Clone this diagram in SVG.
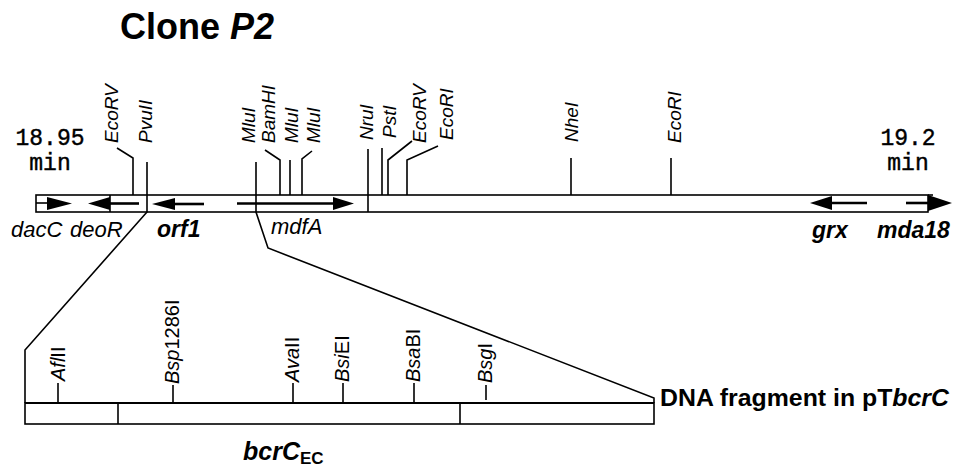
<svg xmlns="http://www.w3.org/2000/svg" width="954" height="469" viewBox="0 0 954 469">
<style>
text{font-family:"Liberation Sans",Arial,sans-serif;fill:#000}
.site{font-size:19px;font-style:italic}
.site2{font-size:20px}
.it{font-style:italic}
.gene{font-size:22px;font-style:italic}
.geneb{font-size:23px;font-style:italic;font-weight:bold}
.mono{font-family:"Liberation Mono","Courier New",monospace;font-size:23px;text-anchor:middle;stroke:#000;stroke-width:0.4}
.ln{fill:none;stroke:#000;stroke-width:1.6}
.shaft{fill:none;stroke:#000;stroke-width:2.6}
.bar{fill:#fff;stroke:#000;stroke-width:1.6}
.head{fill:#000}
</style>
<rect width="954" height="469" fill="#fff"/>
<g id="title"><text x="120" y="39" font-size="36" font-weight="bold">Clone <tspan font-style="italic">P2</tspan></text></g>
<g id="scale-left"><text class="mono" x="50" y="145">18.95</text><text class="mono" x="50" y="170">min</text></g>
<g id="scale-right"><text class="mono" x="908" y="145">19.2</text><text class="mono" x="908" y="170">min</text></g>
<g id="map-bar">
<rect class="bar" x="36" y="195" width="892" height="17"/>
<line class="ln" x1="928" y1="195" x2="933" y2="195"/>
<line class="ln" x1="110" y1="195" x2="110" y2="212"/>
</g>
<g id="gene-dacC"><line class="ln" x1="36" y1="203" x2="48" y2="203"/><polygon class="head" points="47,197 72,203.5 47,210"/><text class="gene" x="11" y="237" font-size="23">dacC</text></g>
<g id="gene-deoR"><line class="shaft" x1="108" y1="203.5" x2="139" y2="203.5"/><polygon class="head" points="110,197 88,203.5 110,210"/><text class="gene" x="70" y="237">deoR</text></g>
<g id="gene-orf1"><line class="shaft" x1="173" y1="204" x2="204" y2="204"/><polygon class="head" points="175,198 152,204 175,210"/><text class="geneb" x="157" y="237">orf1</text></g>
<g id="gene-mdfA"><line class="shaft" x1="237" y1="203.5" x2="335" y2="203.5"/><polygon class="head" points="333,197 354,203.5 333,210"/><text class="gene" x="271" y="234" font-size="21">mdfA</text></g>
<g id="gene-grx"><line class="shaft" x1="830" y1="203" x2="867" y2="203"/><polygon class="head" points="832,196 810,203 832,210"/><text class="geneb" x="812" y="238">grx</text></g>
<g id="gene-mda18"><line class="shaft" x1="906" y1="203" x2="930" y2="203"/><polygon class="head" points="928,195 952,203 928,211"/><text class="geneb" x="877" y="238">mda18</text></g>
<g id="sites-top">
<text class="site" transform="translate(118,143) rotate(-90)">EcoRV</text>
<text class="site" transform="translate(152,143) rotate(-90)">PvuII</text>
<text class="site" transform="translate(255,143) rotate(-90)">MluI</text>
<text class="site" transform="translate(275,143) rotate(-90)">BamHI</text>
<text class="site" transform="translate(298,143) rotate(-90)">MluI</text>
<text class="site" transform="translate(320,143) rotate(-90)">MluI</text>
<text class="site" transform="translate(373,140) rotate(-90)">NruI</text>
<text class="site" transform="translate(396,138) rotate(-90)">PstI</text>
<text class="site" transform="translate(426,143) rotate(-90)">EcoRV</text>
<text class="site" transform="translate(453,140) rotate(-90)">EcoRI</text>
<text class="site" transform="translate(578,142) rotate(-90)">NheI</text>
<text class="site" transform="translate(681,143) rotate(-90)">EcoRI</text>
</g>
<g id="connectors">
<path class="ln" d="M117,148 L133,158 V195"/>
<path class="ln" d="M265,150 L280,160 V195"/>
<path class="ln" d="M290,160 V195"/>
<path class="ln" d="M312,151 L302,159 V195"/>
<path class="ln" d="M368,149 V212"/>
<path class="ln" d="M382,148 V195"/>
<path class="ln" d="M412,141 L388,160 V195"/>
<path class="ln" d="M438,146 L407,160 V195"/>
<path class="ln" d="M571,158 V195"/>
<path class="ln" d="M671,158 V195"/>
<path class="ln" d="M147,162 V212 L25,350 V403"/>
<path class="ln" d="M256,162 V212 L268,248 L654,398 V403"/>
<path class="ln" d="M58,383 V403"/>
<path class="ln" d="M173,385 V403"/>
<path class="ln" d="M293,383 V403"/>
<path class="ln" d="M343,383 V403"/>
<path class="ln" d="M414,383 V403"/>
<path class="ln" d="M486,385 V400"/>
</g>
<g id="fragment-bar">
<rect class="bar" x="25" y="403" width="629" height="21"/>
<line x1="25" y1="403" x2="654" y2="403" stroke="#000" stroke-width="2.2"/>
<line class="ln" x1="118" y1="403" x2="118" y2="424"/>
<line class="ln" x1="460" y1="403" x2="460" y2="424"/>
<text x="660" y="406" font-size="23" font-weight="bold" textLength="289" lengthAdjust="spacingAndGlyphs">DNA fragment in pT<tspan font-style="italic">bcrC</tspan></text>
</g>
<g id="sites-bottom">
<text class="site2" transform="translate(65,381) rotate(-90)"><tspan class="it">Afl</tspan>II</text>
<text class="site2" transform="translate(179,384) rotate(-90)"><tspan class="it">Bsp</tspan>1286I</text>
<text class="site2" transform="translate(299,382) rotate(-90)"><tspan class="it">Ava</tspan>II</text>
<text class="site2" transform="translate(349,382) rotate(-90)"><tspan class="it">Bsi</tspan>EI</text>
<text class="site2" transform="translate(420,382) rotate(-90)"><tspan class="it">Bsa</tspan>BI</text>
<text class="site2" transform="translate(492,383) rotate(-90)"><tspan class="it">Bsg</tspan>I</text>
</g>
<g id="label-bcrC"><text x="243" y="460" font-size="25" font-weight="bold" font-style="italic">bcrC<tspan font-size="17" font-style="normal" dy="4">EC</tspan></text></g>
</svg>
